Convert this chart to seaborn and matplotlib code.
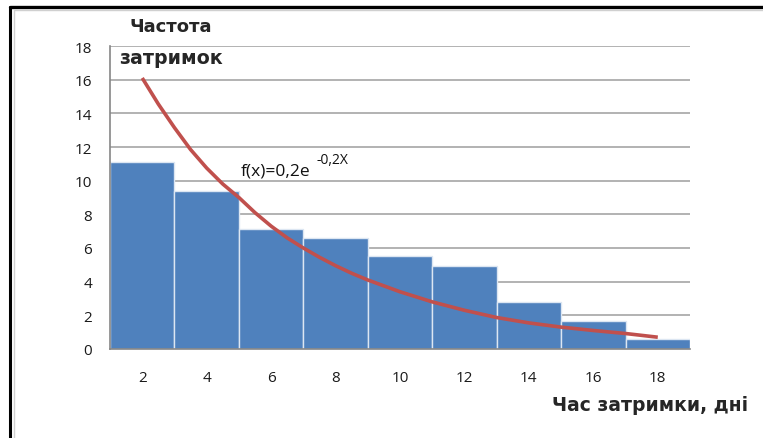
import numpy as np
import seaborn as sns
import matplotlib.pyplot as plt
from matplotlib.lines import Line2D

# Histogram of delays (bin centres and frequencies)
centers = [2, 4, 6, 8, 10, 12, 14, 16, 18]
freq = [11.1, 9.4, 7.15, 6.6, 5.55, 4.95, 2.8, 1.65, 0.58]
bin_edges = [1, 3, 5, 7, 9, 11, 13, 15, 17, 19]

# Fitted curve
curve_x = [2, 2.5, 3, 3.5, 4, 4.5, 5, 5.5, 6, 6.5, 7, 7.5, 8, 8.5, 9,
           10, 11, 12, 13, 14, 15, 16, 17, 18]
curve_y = [16.1, 14.55, 13.15, 11.85, 10.75, 9.8, 9.0, 8.1, 7.3, 6.6, 6.0, 5.45, 4.95, 4.5, 4.1,
           3.4, 2.8, 2.3, 1.87, 1.55, 1.3, 1.1, 0.92, 0.7]

y_ticks = [0, 2, 4, 6, 8, 10, 12, 14, 16, 18]

sns.set_style("white")
plt.rcParams["font.family"] = ["Open Sans", "DejaVu Sans"]

fig = plt.figure(figsize=(7.63, 4.39), dpi=100)
ax = fig.add_axes([110 / 763, 89 / 439, 580 / 763, 303 / 439])

# Gridlines behind the bars
for yv in y_ticks[1:]:
    ax.axhline(yv, color="#a6a6a6", lw=1.2, zorder=0)

sns.histplot(x=centers, weights=freq, bins=bin_edges, color="#4f81bd",
             edgecolor="#dce6f2", linewidth=1.0, alpha=1, ax=ax, zorder=2)
sns.lineplot(x=curve_x, y=curve_y, color="#c0504d", lw=2.6, ax=ax, zorder=3,
             solid_joinstyle="round", solid_capstyle="butt")

ax.set_xlim(1, 19)
ax.set_ylim(0, 18)
ax.set_yticks(y_ticks)
ax.set_xticks(bin_edges)
ax.set_xticklabels([])
ax.set_xticks(centers, minor=True)
ax.set_xticklabels([str(c) for c in centers], minor=True)
ax.tick_params(axis="x", which="major", length=6, width=1, color="#868686", direction="out")
ax.tick_params(axis="x", which="minor", length=0, pad=15, labelsize=11, labelcolor="#1a1a1a")
ax.tick_params(axis="y", length=6, width=1, color="#868686", direction="out",
               pad=7, labelsize=11, labelcolor="#1a1a1a")
ax.set_xlabel("")
ax.set_ylabel("")

for side in ["top", "right"]:
    ax.spines[side].set_visible(False)
for side in ["left", "bottom"]:
    ax.spines[side].set_color("#868686")
    ax.spines[side].set_linewidth(1.2)

# Formula label
ax.text(5.07, 10.6, "f(x)=0,2e", fontsize=12.5, va="center", ha="left", color="#111111")
ax.text(7.42, 11.25, "-0,2X", fontsize=10, va="center", ha="left", color="#111111")

# Axis titles
fig.text(171 / 763, 1 - 27 / 439, "Частота", fontsize=13, fontweight="bold",
         ha="center", va="center", family=["DejaVu Sans"])
fig.text(171 / 763, 1 - 58 / 439, "затримок", fontsize=13.7, fontweight="bold",
         ha="center", va="center", family=["DejaVu Sans"])
fig.text(748 / 763, 1 - 406 / 439, "Час затримки, дні", fontsize=13.5, fontweight="bold",
         ha="right", va="center", family=["DejaVu Sans"])

# Frame round the chart
fig.add_artist(Line2D([10 / 763, 1], [1 - 8 / 439, 1 - 8 / 439], color="black", lw=2.4))
fig.add_artist(Line2D([10 / 763, 10 / 763], [0, 1 - 8 / 439], color="black", lw=2.2))
fig.add_artist(Line2D([13.5 / 763, 1], [1 - 11 / 439, 1 - 11 / 439], color="#d0d0d0", lw=1))
fig.add_artist(Line2D([13.5 / 763, 13.5 / 763], [0, 1 - 11 / 439], color="#d0d0d0", lw=1))

fig.savefig("out.png", dpi=100)
